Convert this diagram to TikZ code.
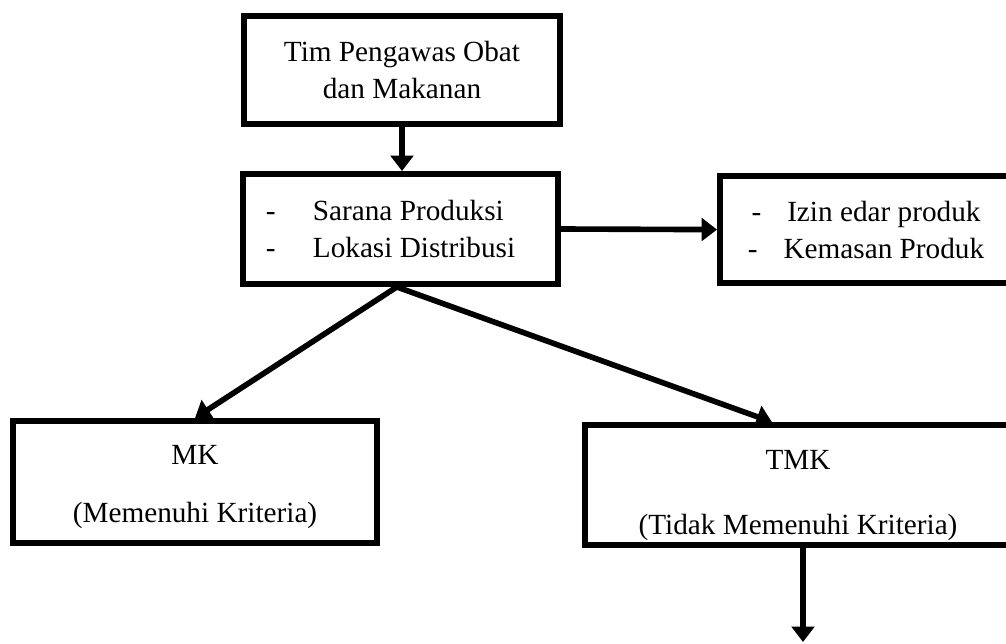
\documentclass[tikz,border=0pt]{standalone}
\usepackage{fontspec}
\setmainfont{Liberation Serif}
\usepackage{xcolor}
\definecolor{chart-black}{HTML}{000000}
\usepackage{tikz}
\usetikzlibrary{arrows.meta}

\tikzset{
    chart-box/.style={draw=chart-black, line width=4.2pt, rectangle, inner sep=0pt,
        font=\fontsize{20.8}{26.3}\selectfont},
    chart-arrow/.style={draw=chart-black, line width=4pt,
        -{Triangle[length=11pt, width=16pt]}}
}

\begin{document}
\begin{tikzpicture}

    % Page frame
    \useasboundingbox (0, 0) rectangle (25.15, -16.075);

    % Boxes
    \node[chart-box, minimum width=7.9cm, minimum height=2.7cm, align=center]
        (tim) at (10.05, -1.75) {Tim Pengawas Obat\\dan Makanan};

    \node[chart-box, minimum width=7.875cm, minimum height=2.75cm, inner xsep=0.575cm,
        text width=6.725cm, align=flush left]
        (sarana) at (10.01, -5.725)
        {\makebox[1.175cm][l]{-}Sarana Produksi\\\makebox[1.175cm][l]{-}Lokasi Distribusi};

    \node[chart-box, minimum width=7.3cm, minimum height=2.675cm, align=center]
        (izin) at (21.65, -5.74)
        {-\hspace{0.65cm}Izin edar produk\\-\hspace{0.65cm}Kemasan Produk};

    \node[chart-box, minimum width=9.1cm, minimum height=3.05cm, align=center]
        (mk) at (4.875, -12.05) {\rule{0pt}{0.74cm}MK\\[15pt](Memenuhi Kriteria)};

    \node[chart-box, minimum width=10.65cm, minimum height=3.0cm, align=center]
        (tmk) at (19.95, -12.125) {\rule{0pt}{1.0cm}TMK\\[20pt](Tidak Memenuhi Kriteria)};

    % Arrows
    \coordinate (akhir) at (20.075, -16.05);

    \draw[chart-arrow] (tim.south) -- (tim.south |- sarana.north);
    \draw[chart-arrow] (sarana.east) -- (izin.west);
    \draw[chart-arrow] ([xshift=-0.09cm]sarana.south) -- (mk.north);
    \draw[chart-arrow] ([xshift=-0.09cm]sarana.south) -- ([xshift=-0.65cm]tmk.north);
    \draw[chart-arrow] (tmk.south -| akhir) -- (akhir);

\end{tikzpicture}
\end{document}
